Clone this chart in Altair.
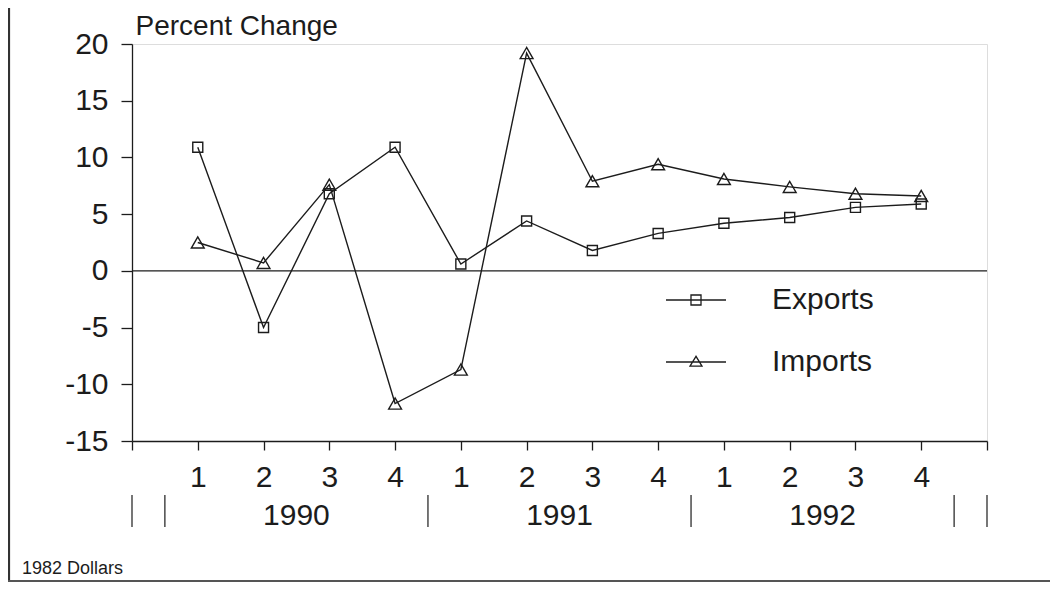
import altair as alt
import pandas as pd

# ---------------- data ----------------
years = ["1990", "1991", "1992"]
quarters = ["1", "2", "3", "4"]
series = ["Exports", "Imports"]
exports = [10.9, -5.0, 6.8, 10.9, 0.6, 4.4, 1.8, 3.3, 4.2, 4.7, 5.6, 5.9]
imports = [2.5, 0.7, 7.6, -11.7, -8.7, 19.2, 7.9, 9.4, 8.1, 7.4, 6.8, 6.6]
y_ticks = [-15, -10, -5, 0, 5, 10, 15, 20]
x_ticks = list(range(14))
year_breaks = [0, 0.5, 4.5, 8.5, 12.5, 13]
notes = ["1982 Dollars"]
y_title = "Percent Change"

# ---------------- tables ----------------
rows = []
for s, vals in zip(series, [exports, imports]):
    for i, v in enumerate(vals):
        rows.append({"series": s, "pos": i + 1, "value": v,
                     "year": years[i // 4], "quarter": quarters[i % 4]})
df = pd.DataFrame(rows)
year_df = pd.DataFrame({"year": years,
                        "pos": [len(quarters) * k + (len(quarters) + 1) / 2 for k in range(len(years))]})
break_df = pd.DataFrame({"pos": year_breaks})
zero_df = pd.DataFrame({"v": [0]})
note_df = pd.DataFrame({"note": notes})
frame_df = pd.DataFrame({"a": [0]})

FONT = "Liberation Sans"
INK = "#1c1c1c"
W, H = 855, 397

x_scale = alt.Scale(domain=[0, 13], nice=False, zero=False)
y_scale = alt.Scale(domain=[-15, 20], nice=False, zero=False)

label_expr = ("datum.value >= 1 && datum.value <= 12 ? "
              + str(quarters) + "[(datum.value - 1) % 4] : ''")

x_axis = alt.Axis(values=x_ticks, labelExpr=label_expr, title=None, tickSize=9,
                  labelPadding=12, labelFontSize=30, labelFont=FONT, labelColor=INK,
                  domainColor=INK, tickColor=INK, domainWidth=1.3, tickWidth=1.3,
                  grid=False, labelFlush=False, labelOverlap=False)
y_axis = alt.Axis(values=y_ticks, labelExpr="'' + datum.value",
                  title=y_title, titleAngle=0, titleAlign="left",
                  titleBaseline="alphabetic", titleX=3, titleY=-10, titleFontSize=28,
                  titleFontWeight="normal", titleFont=FONT, titleColor=INK,
                  tickSize=11, labelPadding=13, labelFontSize=30, labelFont=FONT,
                  labelColor=INK, domainColor=INK, tickColor=INK, domainWidth=1.3,
                  tickWidth=1.3, grid=False, labelOverlap=False)

X = alt.X("pos:Q", scale=x_scale, axis=x_axis)
Y = alt.Y("value:Q", scale=y_scale, axis=y_axis)

base = alt.Chart(df)

lines = base.mark_line(color=INK, strokeWidth=1.4).encode(x=X, y=Y, detail="series:N")

points = base.mark_point(filled=False, color=INK, strokeWidth=1.4, opacity=1).encode(
    x="pos:Q", y="value:Q",
    shape=alt.Shape("series:N", scale=alt.Scale(domain=series, range=["square", "triangle-up"]),
                    legend=None),
    size=alt.Size("series:O", scale=alt.Scale(domain=series, range=[100, 165]), legend=None),
)

legend_paths = [
    "M-1,0H1M-0.167,-0.167H0.167V0.167H-0.167Z",
    "M-1,0H1M0,-0.19L-0.2,0.14H0.2Z",
]
legend_layer = base.mark_point(opacity=0, filled=False).encode(
    x="pos:Q", y="value:Q",
    shape=alt.Shape("series:N", scale=alt.Scale(domain=series, range=legend_paths),
                    legend=alt.Legend(orient="none", legendX=533, legendY=225, title=None,
                                      symbolSize=3600, symbolStrokeColor=INK,
                                      symbolFillColor="transparent", symbolStrokeWidth=1.3,
                                      symbolOpacity=1, labelFont=FONT, labelFontSize=30,
                                      labelColor=INK, labelOffset=45, rowPadding=16,
                                      padding=0)),
)

zero_line = alt.Chart(zero_df).mark_rule(color=INK, strokeWidth=1.3).encode(
    y=alt.Y("v:Q", scale=y_scale))

separators = alt.Chart(break_df).mark_rule(color=INK, strokeWidth=1.2).encode(
    x=alt.X("pos:Q", scale=x_scale), y=alt.value(451), y2=alt.value(483))

year_labels = alt.Chart(year_df).mark_text(font=FONT, fontSize=30, color=INK,
                                           baseline="alphabetic", align="center").encode(
    x=alt.X("pos:Q", scale=x_scale), y=alt.value(481), text="year:N")

note = alt.Chart(note_df).mark_text(font=FONT, fontSize=18, color=INK, align="left",
                                    baseline="alphabetic").encode(
    x=alt.value(-110), y=alt.value(530), text="note:N")

frame_left = alt.Chart(frame_df).mark_rule(color="#333", strokeWidth=2.2).encode(
    x=alt.value(-123), y=alt.value(-40), y2=alt.value(537))
frame_bottom = alt.Chart(frame_df).mark_rule(color="#555", strokeWidth=2).encode(
    x=alt.value(-124), x2=alt.value(918), y=alt.value(537))

chart = alt.layer(
    zero_line, lines, points, legend_layer, separators, year_labels, note,
    frame_left, frame_bottom
).resolve_scale(shape="independent", size="independent").properties(
    width=W, height=H,
    padding={"left": 124, "top": 36, "right": 63, "bottom": 141},
    autosize="none",
).configure_view(stroke=None).configure(background="white")

chart.save("out.html", embed_options={"renderer": "svg", "actions": False})
